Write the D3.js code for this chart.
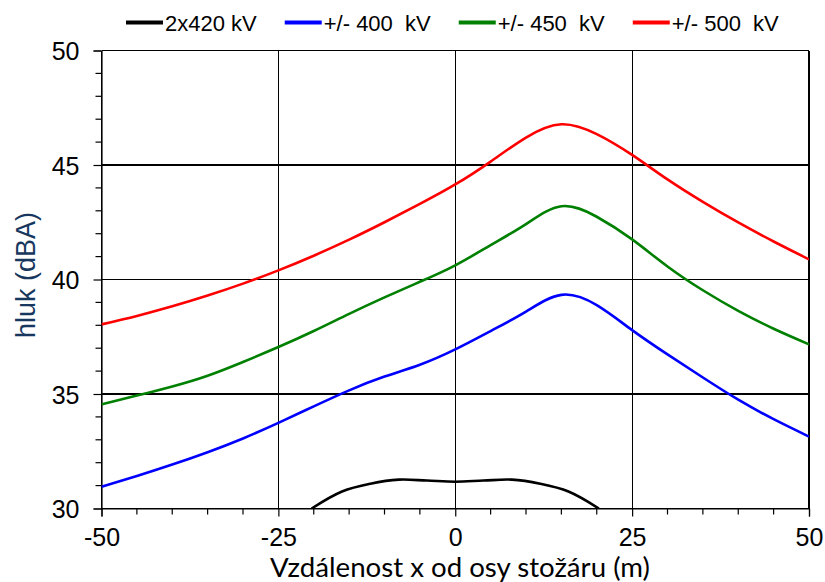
<!DOCTYPE html>
<html>
<head>
<meta charset="utf-8">
<script src="https://cdn.jsdelivr.net/npm/d3@7/dist/d3.min.js"></script>
<style>
  html, body { margin: 0; padding: 0; background: #fff; }
  svg { display: block; }
  text { white-space: pre; }
</style>
</head>
<body>
<svg id="chart" width="825" height="582"></svg>
<script>
// Noise level (dBA) versus distance from the tower axis, for four line configurations
const seriesNames = ["2x420 kV", "+/- 400  kV", "+/- 450  kV", "+/- 500  kV"];
const seriesColors = ["#000000", "#0000ff", "#008000", "#ff0000"];

const xBlack = [-20.3, -16, -12, -8, -4, 0, 4, 8, 12, 16, 20.3];
const yBlack = [30.0, 30.74, 31.08, 31.26, 31.22, 31.17, 31.22, 31.26, 31.08, 30.74, 30.0];

const xDc = [-50, -45, -40, -35, -30, -25, -20, -15, -10, -5, 0, 5, 10, 15, 20, 25, 30, 35, 40, 45, 50];
const y400 = [30.95, 31.42, 31.92, 32.46, 33.06, 33.74, 34.46, 35.16, 35.76, 36.28, 36.95, 37.75, 38.6, 39.33, 38.88, 37.79, 36.73, 35.72, 34.75, 33.9, 33.14];
const y450 = [34.55, 34.93, 35.33, 35.8, 36.4, 37.05, 37.75, 38.5, 39.22, 39.9, 40.62, 41.5, 42.42, 43.2, 42.74, 41.75, 40.57, 39.53, 38.63, 37.85, 37.17];
const y500 = [38.04, 38.41, 38.83, 39.3, 39.82, 40.4, 41.04, 41.74, 42.5, 43.3, 44.15, 45.15, 46.2, 46.78, 46.35, 45.44, 44.37, 43.39, 42.49, 41.66, 40.88];

const xTicks = [-50, -25, 0, 25, 50];
const yTicks = [30, 35, 40, 45, 50];
const xLabel = "Vzdálenost x od osy stožáru (m)";
const yLabel = "hluk (dBA)";

const series = [
  { name: seriesNames[0], color: seriesColors[0], curve: d3.curveCatmullRom.alpha(0.5), pts: xBlack.map((x, i) => [x, yBlack[i]]) },
  { name: seriesNames[1], color: seriesColors[1], curve: d3.curveNatural, pts: xDc.map((x, i) => [x, y400[i]]) },
  { name: seriesNames[2], color: seriesColors[2], curve: d3.curveNatural, pts: xDc.map((x, i) => [x, y450[i]]) },
  { name: seriesNames[3], color: seriesColors[3], curve: d3.curveNatural, pts: xDc.map((x, i) => [x, y500[i]]) }
];

const svg = d3.select("#chart");
const plot = { left: 101.5, right: 809, top: 50.5, bottom: 508.5 };

const x = d3.scaleLinear().domain([-50, 50]).range([plot.left, plot.right]);
const y = d3.scaleLinear().domain([30, 50]).range([plot.bottom, plot.top]);

const ARIAL = "'Liberation Sans', Arial, sans-serif";
const SANS = "Lato, 'Open Sans', sans-serif";

// gridlines
const grid = svg.append("g").attr("stroke", "#000").attr("stroke-width", 1.2).attr("shape-rendering", "crispEdges");
xTicks.forEach(t => grid.append("line").attr("x1", x(t)).attr("x2", x(t)).attr("y1", plot.top).attr("y2", plot.bottom));
yTicks.forEach(t => grid.append("line").attr("x1", plot.left).attr("x2", plot.right).attr("y1", y(t)).attr("y2", y(t)));

// minor ticks
const minorX = d3.range(-50, 50.01, 5).filter(v => xTicks.indexOf(v) < 0);
const minorY = d3.range(30, 50.01, 1).filter(v => yTicks.indexOf(v) < 0);

// axes
const xAxis = d3.axisBottom(x).tickValues(xTicks).tickSize(8).tickPadding(12).tickFormat(d => String(d));
const yAxis = d3.axisLeft(y).tickValues(yTicks).tickSize(8).tickPadding(14).tickFormat(d => String(d));

const gx = svg.append("g").attr("transform", `translate(0,${plot.bottom})`).call(xAxis);
minorX.forEach(v => gx.append("line").attr("x1", x(v)).attr("x2", x(v)).attr("y1", 0).attr("y2", 6).attr("stroke", "#000").attr("stroke-width", 1.2));
const gy = svg.append("g").attr("transform", `translate(${plot.left},0)`).call(yAxis);
minorY.forEach(v => gy.append("line").attr("x1", -6).attr("x2", 0).attr("y1", y(v)).attr("y2", y(v)).attr("stroke", "#000").attr("stroke-width", 1.2));

[gx, gy].forEach(g => {
  g.select(".domain").attr("stroke", "#000").attr("stroke-width", 1.2);
  g.selectAll(".tick line").attr("stroke", "#000").attr("stroke-width", 1.2);
  g.selectAll("text").attr("font-family", ARIAL).attr("font-size", 25).attr("fill", "#000");
});
gy.selectAll(".tick text").attr("dy", "0.36em");

// lines, clipped to the plot area
svg.append("clipPath").attr("id", "plotClip").append("rect")
  .attr("x", plot.left).attr("y", plot.top - 2).attr("width", plot.right - plot.left).attr("height", plot.bottom - plot.top + 2);

svg.append("g").attr("clip-path", "url(#plotClip)")
  .selectAll("path").data(series).join("path")
  .attr("d", d => d3.line().x(p => x(p[0])).y(p => y(p[1])).curve(d.curve)(d.pts))
  .attr("fill", "none")
  .attr("stroke", d => d.color)
  .attr("stroke-width", 2.6)
  .attr("stroke-linejoin", "round");

// axis titles
const xt = svg.append("text").text(xLabel)
  .attr("font-family", SANS).attr("font-size", 26).attr("fill", "#000")
  .attr("text-anchor", "middle").attr("x", 460).attr("y", 577);
const xtw = xt.node().getComputedTextLength();
xt.attr("font-size", 26 * 380 / xtw);

const yt = svg.append("text").text(yLabel)
  .attr("font-family", ARIAL).attr("font-size", 24).attr("fill", "#17375e")
  .attr("text-anchor", "middle")
  .attr("transform", "translate(35,275) rotate(-90)");
const ytw = yt.node().getComputedTextLength();
yt.attr("font-size", 24 * 126 / ytw);

// legend across the top
const legend = svg.append("g").attr("font-family", ARIAL).attr("font-size", 22);
let lx = 126;
series.forEach(s => {
  legend.append("line").attr("x1", lx).attr("x2", lx + 37).attr("y1", 22.5).attr("y2", 22.5)
    .attr("stroke", s.color).attr("stroke-width", 4);
  const t = legend.append("text").text(s.name).attr("x", lx + 39).attr("y", 31).attr("fill", "#000");
  lx += 39 + t.node().getComputedTextLength() + 28;
});
</script>
</body>
</html>
